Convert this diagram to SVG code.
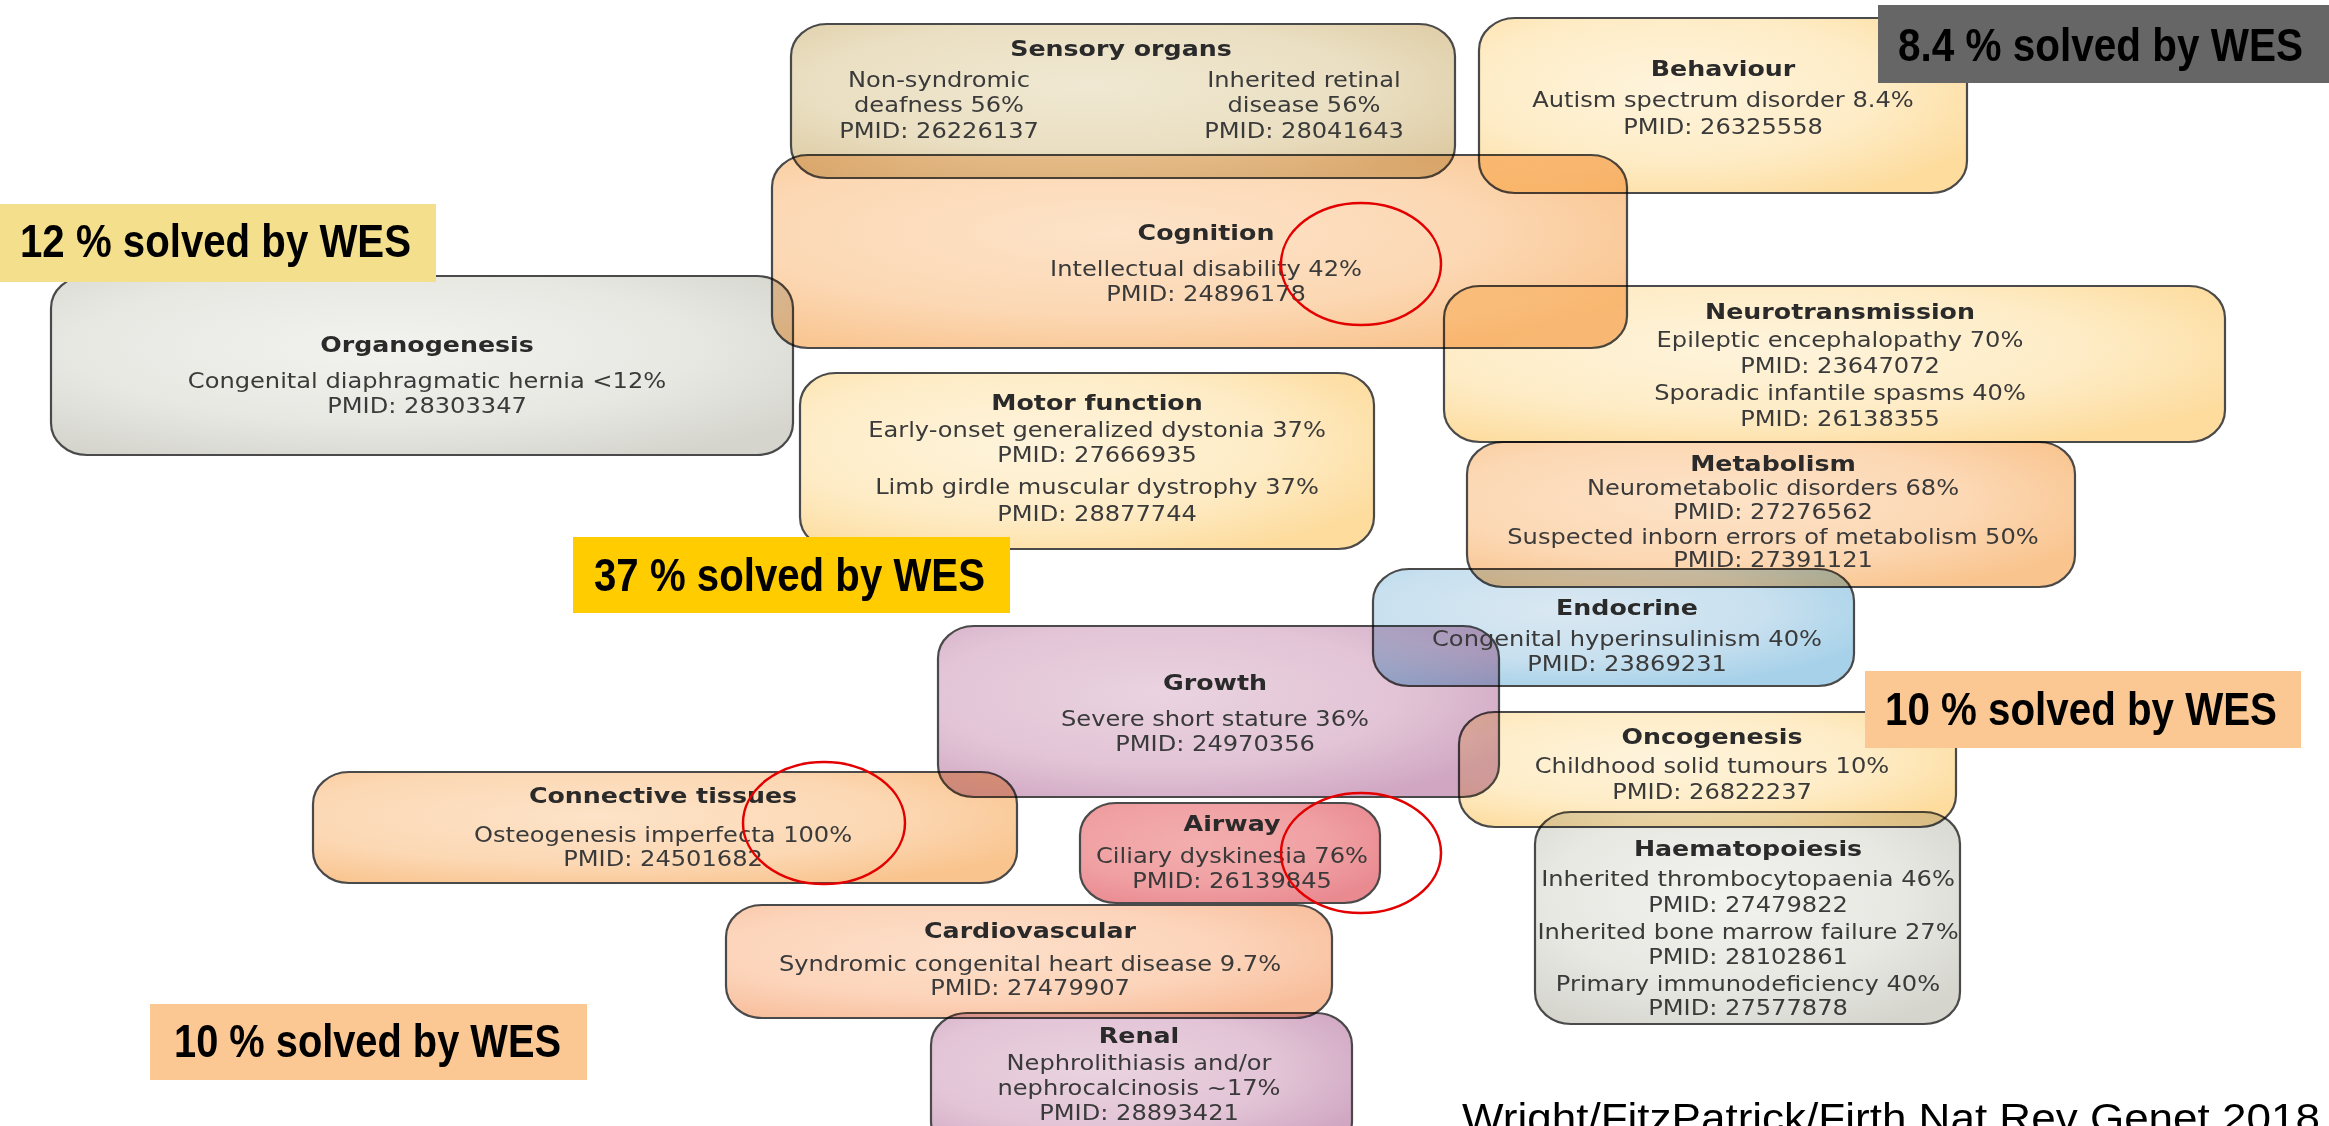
<svg xmlns="http://www.w3.org/2000/svg" width="2329" height="1126" viewBox="0 0 2329 1126">
<style>
.box{stroke:#4a4a4a;stroke-width:2.2;mix-blend-mode:multiply}
.h{font-family:"DejaVu Sans",sans-serif;font-weight:bold;font-size:22px;fill:#2a2a2a;text-anchor:middle}
.t{font-family:"DejaVu Sans",sans-serif;font-size:21px;fill:#3a3a3a;text-anchor:middle}
.lbl{font-family:"Liberation Sans",Arial,sans-serif;font-weight:bold;font-size:46px;fill:#000}
.cit{font-family:"Liberation Sans",Arial,sans-serif;font-size:40px;fill:#000}
.ring{fill:none;stroke:#e30000;stroke-width:2.5}
</style>
<defs>
<radialGradient id="gTan" cx="45%" cy="40%" r="70%"><stop offset="0" stop-color="#F0E8D2"/><stop offset="0.6" stop-color="#EADFC2"/><stop offset="1" stop-color="#DDCAA2"/></radialGradient>
<radialGradient id="gYel" cx="40%" cy="40%" r="70%"><stop offset="0" stop-color="#FEF4DC"/><stop offset="0.6" stop-color="#FEECC6"/><stop offset="1" stop-color="#FDDC9E"/></radialGradient>
<radialGradient id="gPch" cx="40%" cy="40%" r="70%"><stop offset="0" stop-color="#FDE3C8"/><stop offset="0.6" stop-color="#FCD8B4"/><stop offset="1" stop-color="#F9C48E"/></radialGradient>
<radialGradient id="gGry" cx="45%" cy="40%" r="70%"><stop offset="0" stop-color="#F2F2EE"/><stop offset="0.6" stop-color="#E8E8E3"/><stop offset="1" stop-color="#D5D5CE"/></radialGradient>
<radialGradient id="gBlu" cx="40%" cy="35%" r="70%"><stop offset="0" stop-color="#DAE8F2"/><stop offset="0.6" stop-color="#C8E0EF"/><stop offset="1" stop-color="#A6D1E9"/></radialGradient>
<radialGradient id="gMau" cx="40%" cy="40%" r="70%"><stop offset="0" stop-color="#EAD3E0"/><stop offset="0.6" stop-color="#E2C4D6"/><stop offset="1" stop-color="#D0A6C2"/></radialGradient>
<radialGradient id="gRed" cx="40%" cy="40%" r="70%"><stop offset="0" stop-color="#F3AEAE"/><stop offset="0.6" stop-color="#F0A0A2"/><stop offset="1" stop-color="#E98A91"/></radialGradient>
<radialGradient id="gSal" cx="40%" cy="40%" r="70%"><stop offset="0" stop-color="#FDDFC9"/><stop offset="0.6" stop-color="#FCD4BA"/><stop offset="1" stop-color="#F8BE9C"/></radialGradient>
</defs>
<rect x="0" y="0" width="2329" height="1126" fill="#ffffff"/>

<g id="sensory-organs">
<rect class="box" x="791" y="24" width="664" height="154" rx="36" ry="32" fill="url(#gTan)"/>
<g transform="translate(1121 0) scale(1.15 1)"><text class="h" x="0" y="56">Sensory organs</text></g>
<g transform="translate(939 0) scale(1.15 1)"><text class="t" x="0" y="87">Non-syndromic</text><text class="t" x="0" y="112">deafness 56%</text><text class="t" x="0" y="138">PMID: 26226137</text></g>
<g transform="translate(1304 0) scale(1.15 1)"><text class="t" x="0" y="87">Inherited retinal</text><text class="t" x="0" y="112">disease 56%</text><text class="t" x="0" y="138">PMID: 28041643</text></g>
</g>

<g id="behaviour">
<rect class="box" x="1479" y="18" width="488" height="175" rx="36" ry="32" fill="url(#gYel)"/>
<g transform="translate(1723 0) scale(1.15 1)"><text class="h" x="0" y="76">Behaviour</text><text class="t" x="0" y="107">Autism spectrum disorder 8.4%</text><text class="t" x="0" y="134">PMID: 26325558</text></g>
</g>

<g id="cognition">
<rect class="box" x="772" y="155" width="855" height="193" rx="36" ry="32" fill="url(#gPch)"/>
<g transform="translate(1206 0) scale(1.15 1)"><text class="h" x="0" y="240">Cognition</text><text class="t" x="0" y="276">Intellectual disability 42%</text><text class="t" x="0" y="301">PMID: 24896178</text></g>
</g>

<g id="organogenesis">
<rect class="box" x="51" y="276" width="742" height="179" rx="36" ry="32" fill="url(#gGry)"/>
<g transform="translate(427 0) scale(1.15 1)"><text class="h" x="0" y="352">Organogenesis</text><text class="t" x="0" y="388">Congenital diaphragmatic hernia &lt;12%</text><text class="t" x="0" y="413">PMID: 28303347</text></g>
</g>

<g id="neurotransmission">
<rect class="box" x="1444" y="286" width="781" height="156" rx="36" ry="32" fill="url(#gYel)"/>
<g transform="translate(1840 0) scale(1.15 1)"><text class="h" x="0" y="319">Neurotransmission</text><text class="t" x="0" y="347">Epileptic encephalopathy 70%</text><text class="t" x="0" y="373">PMID: 23647072</text><text class="t" x="0" y="400">Sporadic infantile spasms 40%</text><text class="t" x="0" y="426">PMID: 26138355</text></g>
</g>

<g id="motor-function">
<rect class="box" x="800" y="373" width="574" height="176" rx="36" ry="32" fill="url(#gYel)"/>
<g transform="translate(1097 0) scale(1.15 1)"><text class="h" x="0" y="410">Motor function</text><text class="t" x="0" y="437">Early-onset generalized dystonia 37%</text><text class="t" x="0" y="462">PMID: 27666935</text><text class="t" x="0" y="494">Limb girdle muscular dystrophy 37%</text><text class="t" x="0" y="521">PMID: 28877744</text></g>
</g>

<g id="metabolism">
<rect class="box" x="1467" y="442" width="608" height="145" rx="36" ry="32" fill="url(#gPch)"/>
<g transform="translate(1773 0) scale(1.15 1)"><text class="h" x="0" y="471">Metabolism</text><text class="t" x="0" y="495">Neurometabolic disorders 68%</text><text class="t" x="0" y="519">PMID: 27276562</text><text class="t" x="0" y="544">Suspected inborn errors of metabolism 50%</text><text class="t" x="0" y="567">PMID: 27391121</text></g>
</g>

<g id="growth">
<rect class="box" x="938" y="626" width="561" height="171" rx="36" ry="32" fill="url(#gMau)"/>
<g transform="translate(1215 0) scale(1.15 1)"><text class="h" x="0" y="690">Growth</text><text class="t" x="0" y="726">Severe short stature 36%</text><text class="t" x="0" y="751">PMID: 24970356</text></g>
</g>

<g id="endocrine">
<rect class="box" x="1373" y="569" width="481" height="117" rx="36" ry="32" fill="url(#gBlu)"/>
<g transform="translate(1627 0) scale(1.15 1)"><text class="h" x="0" y="615">Endocrine</text><text class="t" x="0" y="646">Congenital hyperinsulinism 40%</text><text class="t" x="0" y="671">PMID: 23869231</text></g>
</g>

<g id="oncogenesis">
<rect class="box" x="1459" y="712" width="497" height="115" rx="36" ry="32" fill="url(#gYel)"/>
<g transform="translate(1712 0) scale(1.15 1)"><text class="h" x="0" y="744">Oncogenesis</text><text class="t" x="0" y="773">Childhood solid tumours 10%</text><text class="t" x="0" y="799">PMID: 26822237</text></g>
</g>

<g id="connective-tissues">
<rect class="box" x="313" y="772" width="704" height="111" rx="36" ry="32" fill="url(#gPch)"/>
<g transform="translate(663 0) scale(1.15 1)"><text class="h" x="0" y="803">Connective tissues</text><text class="t" x="0" y="842">Osteogenesis imperfecta 100%</text><text class="t" x="0" y="866">PMID: 24501682</text></g>
</g>

<g id="airway">
<rect class="box" x="1080" y="803" width="300" height="100" rx="36" ry="32" fill="url(#gRed)"/>
<g transform="translate(1232 0) scale(1.15 1)"><text class="h" x="0" y="831">Airway</text><text class="t" x="0" y="863">Ciliary dyskinesia 76%</text><text class="t" x="0" y="888">PMID: 26139845</text></g>
</g>

<g id="haematopoiesis">
<rect class="box" x="1535" y="812" width="425" height="212" rx="36" ry="32" fill="url(#gGry)"/>
<g transform="translate(1748 0) scale(1.15 1)"><text class="h" x="0" y="856">Haematopoiesis</text><text class="t" x="0" y="886">Inherited thrombocytopaenia 46%</text><text class="t" x="0" y="912">PMID: 27479822</text><text class="t" x="0" y="939">Inherited bone marrow failure 27%</text><text class="t" x="0" y="964">PMID: 28102861</text><text class="t" x="0" y="991">Primary immunodeficiency 40%</text><text class="t" x="0" y="1015">PMID: 27577878</text></g>
</g>

<g id="cardiovascular">
<rect class="box" x="726" y="905" width="606" height="113" rx="36" ry="32" fill="url(#gSal)"/>
<g transform="translate(1030 0) scale(1.15 1)"><text class="h" x="0" y="938">Cardiovascular</text><text class="t" x="0" y="971">Syndromic congenital heart disease 9.7%</text><text class="t" x="0" y="995">PMID: 27479907</text></g>
</g>

<g id="renal">
<rect class="box" x="931" y="1013" width="421" height="140" rx="36" ry="32" fill="url(#gMau)"/>
<g transform="translate(1139 0) scale(1.15 1)"><text class="h" x="0" y="1043">Renal</text><text class="t" x="0" y="1070">Nephrolithiasis and/or</text><text class="t" x="0" y="1095">nephrocalcinosis ~17%</text><text class="t" x="0" y="1120">PMID: 28893421</text></g>
</g>

<g id="highlights">
<ellipse class="ring" cx="1361" cy="264" rx="80" ry="61"/>
<ellipse class="ring" cx="824" cy="823" rx="81" ry="61"/>
<ellipse class="ring" cx="1361" cy="853" rx="80" ry="60"/>
</g>

<g id="label-84">
<rect x="1878" y="5" width="451" height="78" fill="#666666"/>
<text class="lbl" x="1898" y="61" textLength="405" lengthAdjust="spacingAndGlyphs">8.4 % solved by WES</text>
</g>
<g id="label-12">
<rect x="0" y="204" width="436" height="78" fill="#F4E08C"/>
<text class="lbl" x="20" y="257" textLength="391" lengthAdjust="spacingAndGlyphs">12 % solved by WES</text>
</g>
<g id="label-37">
<rect x="573" y="537" width="437" height="76" fill="#FFCC00"/>
<text class="lbl" x="594" y="591" textLength="391" lengthAdjust="spacingAndGlyphs">37 % solved by WES</text>
</g>
<g id="label-10-right">
<rect x="1865" y="671" width="436" height="77" fill="#FBC894"/>
<text class="lbl" x="1885" y="725" textLength="392" lengthAdjust="spacingAndGlyphs">10 % solved by WES</text>
</g>
<g id="label-10-left">
<rect x="150" y="1004" width="437" height="76" fill="#FBC894"/>
<text class="lbl" x="174" y="1057" textLength="387" lengthAdjust="spacingAndGlyphs">10 % solved by WES</text>
</g>

<text class="cit" x="1462" y="1132" textLength="858" lengthAdjust="spacingAndGlyphs">Wright/FitzPatrick/Firth Nat Rev Genet 2018</text>
</svg>
